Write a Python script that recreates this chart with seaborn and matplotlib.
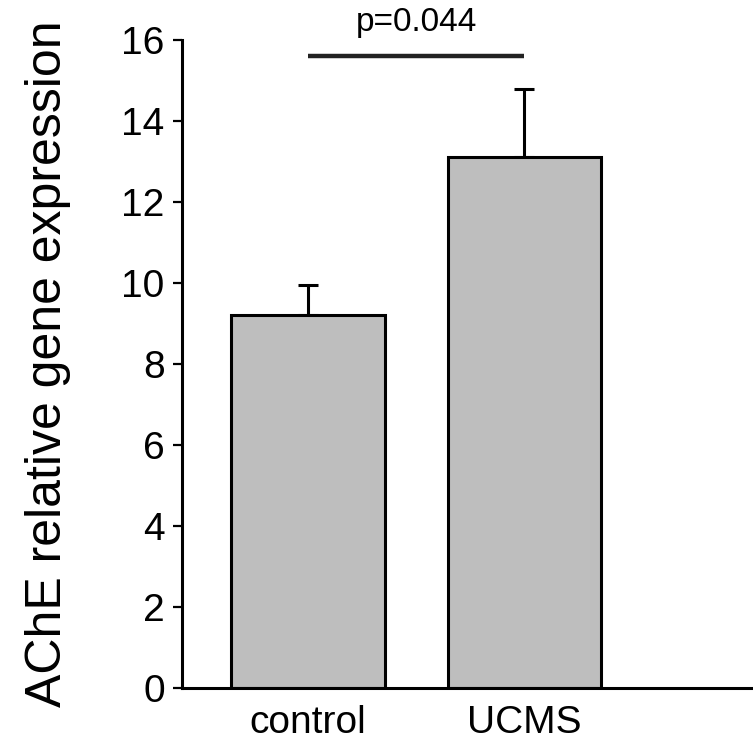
import pandas as pd
import seaborn as sns
import matplotlib

matplotlib.use("Agg")
import matplotlib.pyplot as plt

# data
groups = ["control", "UCMS"]
means = [9.2, 13.1]
err_up = [0.75, 1.68]
p_text = "p=0.044"
sig_level = 15.6
y_ticks = [0, 2, 4, 6, 8, 10, 12, 14, 16]

df = pd.DataFrame({"group": groups, "value": means})

sns.set_style("ticks")
plt.rcParams["font.family"] = ["Liberation Sans", "DejaVu Sans"]
plt.rcParams["text.color"] = "black"
plt.rcParams["axes.labelcolor"] = "black"
plt.rcParams["xtick.color"] = "black"
plt.rcParams["ytick.color"] = "black"
plt.rcParams["axes.edgecolor"] = "black"

fig = plt.figure(figsize=(7.53, 7.48), dpi=100)
ax = fig.add_axes([0.2417, 0.0802, 0.7583, 0.8663])

sns.barplot(
    data=df,
    x="group",
    y="value",
    color="#bebebe",
    edgecolor="black",
    linewidth=2.2,
    width=0.71,
    errorbar=None,
    saturation=1,
    ax=ax,
    zorder=2,
)

# upward-only error bars
ax.errorbar(
    range(len(groups)),
    means,
    yerr=[[0] * len(groups), err_up],
    fmt="none",
    ecolor="black",
    elinewidth=2.2,
    capsize=7,
    capthick=2.2,
    zorder=1,
)

# significance bar
ax.plot([0, 1], [sig_level, sig_level], color="#222222", lw=3.2, solid_capstyle="butt",
        clip_on=False)
ax.text(0.5, sig_level + 0.45, p_text, ha="center", va="bottom", fontsize=24,
        color="black", clip_on=False)

ax.set_ylim(0, 16)
ax.set_xlim(-0.583, 2.058)
ax.set_yticks(y_ticks)
ax.set_xlabel("")
ax.set_ylabel("AChE relative gene expression", fontsize=36, labelpad=36)

sns.despine(ax=ax)
for s in ["left", "bottom"]:
    ax.spines[s].set_linewidth(2.2)
ax.tick_params(axis="y", labelsize=28, length=6.5, width=1.6, pad=6, colors="black")
ax.tick_params(axis="x", labelsize=28, length=0, pad=12, colors="black")

plt.savefig("out.png", dpi=100)
